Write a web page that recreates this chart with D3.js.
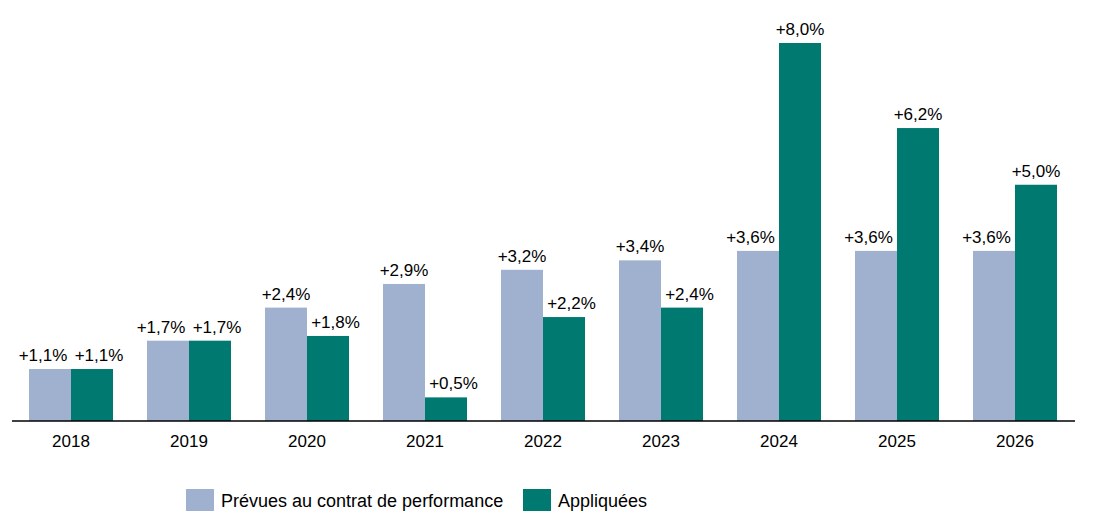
<!DOCTYPE html>
<html>
<head>
<meta charset="utf-8">
<script src="https://cdn.jsdelivr.net/npm/d3@7"></script>
<style>
  body { margin: 0; background: #fff; }
  svg { font-family: "Liberation Sans", Arial, sans-serif; }
</style>
</head>
<body>
<svg id="chart" width="1099" height="527"></svg>
<script>
const years = ["2018", "2019", "2020", "2021", "2022", "2023", "2024", "2025", "2026"];
const prevues = [1.1, 1.7, 2.4, 2.9, 3.2, 3.4, 3.6, 3.6, 3.6];
const appliquees = [1.1, 1.7, 1.8, 0.5, 2.2, 2.4, 8.0, 6.2, 5.0];
const seriesNames = ["Prévues au contrat de performance", "Appliquées"];
const colors = ["#9FB1CF", "#007A70"];

const svg = d3.select("#chart");
const baseY = 421;

const x = d3.scaleBand()
  .domain(years)
  .range([12, 1074]);

const inner = d3.scaleBand()
  .domain([0, 1])
  .range([17, x.bandwidth() - 17]);

const y = d3.scaleLinear()
  .domain([0, 8])
  .range([baseY, 43]);

const fmt = v => "+" + v.toFixed(1).replace(".", ",") + "%";

const rows = years.map((yr, i) => ({ year: yr, values: [prevues[i], appliquees[i]] }));

// label of the lower bar (or both when equal) is pushed outward to clear the taller neighbour
const nudge = (vals, k) => {
  const dir = k === 0 ? -1 : 1;
  if (vals[k] === vals[1 - k]) return dir * 7;
  if (vals[k] < vals[1 - k]) return dir * 7.5;
  return 0;
};

const groups = svg.selectAll("g.year")
  .data(rows)
  .enter()
  .append("g")
  .attr("class", "year")
  .attr("transform", d => `translate(${x(d.year)},0)`);

groups.selectAll("rect")
  .data(d => d.values.map((v, k) => ({ v, k })))
  .enter()
  .append("rect")
  .attr("x", d => inner(d.k))
  .attr("y", d => y(d.v))
  .attr("width", inner.bandwidth())
  .attr("height", d => baseY - y(d.v))
  .attr("fill", d => colors[d.k]);

groups.selectAll("text.val")
  .data(d => d.values.map((v, k) => ({ v, k, vals: d.values })))
  .enter()
  .append("text")
  .attr("class", "val")
  .attr("x", d => inner(d.k) + inner.bandwidth() / 2 + nudge(d.vals, d.k))
  .attr("y", d => y(d.v) - 8)
  .attr("text-anchor", "middle")
  .style("font-size", "17px")
  .attr("fill", "#000")
  .text(d => fmt(d.v));

// x axis
const xAxis = svg.append("g")
  .attr("transform", `translate(0,${baseY})`)
  .call(d3.axisBottom(x).tickSize(0).tickPadding(14));
xAxis.select(".domain").attr("stroke", "#000").attr("stroke-width", 1.3).attr("d", "M12,0H1075");
xAxis.selectAll("text")
  .style("font-family", "'Liberation Sans', Arial, sans-serif")
  .style("font-size", "17px")
  .attr("fill", "#000");

// legend
const legendX = [186, 523];
const legend = svg.selectAll("g.legend")
  .data(seriesNames)
  .enter()
  .append("g")
  .attr("class", "legend")
  .attr("transform", (d, i) => `translate(${legendX[i]},489)`);

legend.append("rect")
  .attr("width", 28)
  .attr("height", 22)
  .attr("fill", (d, i) => colors[i]);

legend.append("text")
  .attr("x", 35)
  .attr("y", 18)
  .style("font-size", "18px")
  .attr("fill", "#000")
  .text(d => d);
</script>
</body>
</html>
